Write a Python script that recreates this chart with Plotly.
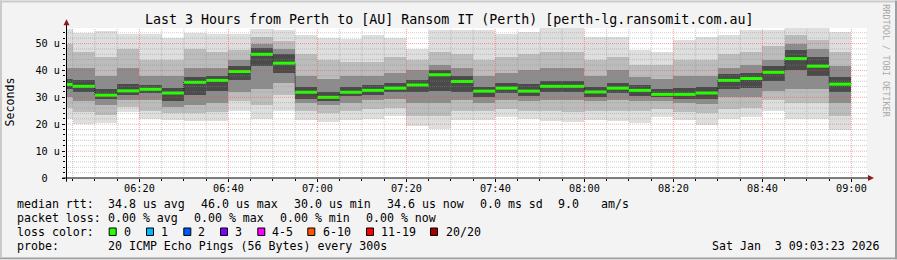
import plotly.graph_objects as go
import pandas as pd

# ---------------- data ----------------
col_end = pd.date_range("2026-01-03 06:05", "2026-01-03 09:00", freq="5min")
median = [34.8, 34.1, 30.8, 32.4, 33.0, 31.6, 35.6, 36.3, 39.6, 46.0, 42.7, 31.9,
          30.0, 31.9, 32.6, 33.4, 34.6, 38.4, 35.9, 32.3, 33.4, 32.3, 34.1, 34.1,
          32.0, 33.4, 32.6, 31.1, 31.1, 31.6, 36.3, 37.0, 39.3, 44.4, 41.6, 34.9]
ping_min = [22, 20.1, 20.3, 24.5, 22, 21.5, 21.2, 21.2, 25, 22, 25, 21.5,
            21, 21.5, 22, 23, 19.5, 18.3, 21.5, 21.5, 22.5, 22, 21.2, 21,
            21.5, 21.2, 20.4, 22.5, 21.5, 19.7, 22, 22.5, 25, 22, 22, 17.9]
ping_max = [55.5, 53.9, 54.7, 53.7, 53.7, 52, 54, 53.7, 53.7, 55.3, 55, 53,
            52, 51.8, 53, 52, 48, 55, 55, 55, 53.7, 54.3, 55.6, 55.6,
            52.5, 52.5, 47.5, 47, 51.2, 52.4, 53, 55, 55, 55.7, 55.7, 54.3]
band2_lo = [26, 24.5, 23.5, 26.5, 25, 24, 24, 24.5, 28.5, 27, 31, 25,
            24, 25, 25.5, 26, 23, 23, 25, 25, 25.5, 25, 25, 24.5,
            25, 25, 25, 25.5, 24.5, 24, 25.5, 26, 29, 28, 28, 23]
band2_hi = [50, 47, 45, 48, 44, 44, 48, 47, 47.5, 52.5, 51, 46,
            44, 43, 43, 45, 44, 47, 46, 44, 45, 46, 47, 47,
            44, 45, 42, 42, 44, 44, 46, 47, 49, 53, 51.5, 47]
band3_lo = [30, 28.5, 27, 29, 29, 26.5, 27, 28, 32, 33, 35.5, 28,
            27, 28, 29, 29.5, 28, 28, 29, 28, 29, 28.5, 29, 29,
            28.5, 29, 28.5, 28.5, 28, 27.5, 30, 30, 32.5, 33, 33, 28]
band3_hi = [41, 41, 38, 41, 38, 38, 41, 41, 44, 50, 48, 38,
            37, 38, 38, 39, 40, 42, 41, 38, 39, 40, 41, 41,
            38, 40, 37.5, 37, 38, 38, 41, 42, 44, 50, 48, 41.5]
band4_lo = [33, 32, 29.5, 31, 31.5, 28.5, 31, 32.5, 36.5, 41.5, 39, 29.5,
            28.5, 30.5, 31, 32, 32, 32.5, 32, 30, 31.5, 30.5, 32, 32,
            30, 31.5, 30.5, 30, 29.5, 29.5, 33, 33.5, 36, 40, 38, 32]
band4_hi = [37, 36.5, 33, 35, 34.5, 33.5, 37.5, 38, 41.5, 48.5, 46, 34,
            32, 34, 34.5, 35.5, 36.5, 40, 38, 34, 35.5, 35, 36, 36,
            34, 35.5, 34.5, 33, 33.5, 34, 38.5, 39, 41.5, 47.5, 45, 37.5]

y_tick_vals = [0, 10, 20, 30, 40, 50]
y_tick_text = ["0\u00a0\u00a0", "10 u", "20 u", "30 u", "40 u", "50 u"]

title_text = "Last 3 Hours from Perth to [AU] Ransom IT (Perth) [perth-lg.ransomit.com.au]"
row1 = ["median rtt:", "34.8 us avg", "46.0 us max", "30.0 us min", "34.6 us now",
        "0.0 ms sd", "9.0", "am/s"]
row2 = ["packet loss:", "0.00 % avg", "0.00 % max", "0.00 % min", "0.00 % now"]
loss_labels = ["0", "1", "2", "3", "4-5", "6-10", "11-19", "20/20"]
loss_colors = ["#26ff00", "#00b8ff", "#0059ff", "#7e00ff", "#ff00ff", "#ff5500", "#ff0000", "#a10000"]
row4 = ["probe:", "20 ICMP Echo Pings (56 Bytes) every 300s"]
date_text = "Sat Jan\u00a0\u00a03 09:03:23 2026"

# ---------------- layout geometry (pixels) ----------------
W, H = 897, 260
L, T, PW, PH = 66, 27.7, 801, 150.6
X0 = pd.Timestamp("2026-01-03 06:03:30")
X1 = pd.Timestamp("2026-01-03 09:03:30")
YMAX = 55.78
STEP = pd.Timedelta(minutes=5)


def fx(p):
    return (p - L) / PW


def fy(p):
    return (T + PH - p) / PH


MONO = "DejaVu Sans Mono"

fig = go.Figure()

centers = [e - STEP / 2 for e in col_end]
bands = [(ping_min, ping_max, "#dedede"), (band2_lo, band2_hi, "#bcbcbc"),
         (band3_lo, band3_hi, "#8c8c8c"), (band4_lo, band4_hi, "#4a4a4a")]
for lo, hi, c in bands:
    fig.add_trace(go.Bar(x=centers, base=lo, y=[h - l for l, h in zip(lo, hi)],
                         width=STEP.total_seconds() * 1000 * 1.002,
                         marker=dict(color=c, line=dict(width=0)),
                         hoverinfo="skip", showlegend=False))

# black step connector
starts = [e - STEP for e in col_end]
fig.add_trace(go.Scatter(x=list(starts) + [col_end[-1]], y=median + [median[-1]],
                         mode="lines", line=dict(color="#000000", width=1, shape="hv", dash="1px,1px"),
                         hoverinfo="skip", showlegend=False))
# green median segments
gx, gy = [], []
for s, e, m in zip(starts, col_end, median):
    gx += [s, e, None]
    gy += [m, m, None]
fig.add_trace(go.Scatter(x=gx, y=gy, mode="lines", line=dict(color=loss_colors[0], width=3),
                         hoverinfo="skip", showlegend=False))

shapes = []
# grid lines (above data, as in rrdtool)
minor_col = "rgba(140,140,140,0.45)"
major_col = "rgba(255,60,60,0.45)"
t = pd.Timestamp("2026-01-03 06:05")
while t <= X1:
    major = (t.minute % 20 == 0)
    shapes.append(dict(type="line", xref="x", yref="paper", x0=t, x1=t, y0=0, y1=1, layer="above",
                       line=dict(color=major_col if major else minor_col, width=1, dash="1px,1px")))
    t += STEP
for v in range(2, 56, 2):
    major = (v % 10 == 0)
    shapes.append(dict(type="line", xref="paper", yref="y", x0=0, x1=1, y0=v, y1=v, layer="above",
                       line=dict(color=major_col if major else minor_col, width=1, dash="1px,1px")))

# axes lines and arrows
shapes.append(dict(type="line", xref="paper", yref="paper", x0=fx(62.5), x1=fx(869), y0=fy(178.3), y1=fy(178.3),
                   line=dict(color="#000000", width=1), layer="above"))
shapes.append(dict(type="line", xref="paper", yref="paper", x0=fx(66.5), x1=fx(66.5), y0=fy(182), y1=fy(24),
                   line=dict(color="#000000", width=1), layer="above"))
shapes.append(dict(type="path", xref="paper", yref="paper",
                   path=f"M {fx(868)} {fy(175.3)} L {fx(874)} {fy(178.3)} L {fx(868)} {fy(181.3)} Z",
                   fillcolor="#8b1a1a", line=dict(width=0), layer="above"))
shapes.append(dict(type="path", xref="paper", yref="paper",
                   path=f"M {fx(63.5)} {fy(25)} L {fx(66.5)} {fy(19)} L {fx(69.5)} {fy(25)} Z",
                   fillcolor="#8b1a1a", line=dict(width=0), layer="above"))

# frame
shapes.append(dict(type="rect", xref="paper", yref="paper", x0=fx(0), x1=fx(897), y0=fy(258), y1=fy(260),
                   fillcolor="#9e9e9e", line=dict(width=0)))
shapes.append(dict(type="rect", xref="paper", yref="paper", x0=fx(895), x1=fx(897), y0=fy(260), y1=fy(0),
                   fillcolor="#9e9e9e", line=dict(width=0)))
shapes.append(dict(type="rect", xref="paper", yref="paper", x0=fx(0), x1=fx(2), y0=fy(258), y1=fy(0),
                   fillcolor="#cbcbcb", line=dict(width=0)))
shapes.append(dict(type="rect", xref="paper", yref="paper", x0=fx(0), x1=fx(895), y0=fy(2), y1=fy(0),
                   fillcolor="#cbcbcb", line=dict(width=0)))

# loss colour boxes
box_x = [108.7, 146, 183.3, 220, 257.3, 307.3, 366, 430]
for bx, c in zip(box_x, loss_colors):
    shapes.append(dict(type="rect", xref="paper", yref="paper", x0=fx(bx + 0.5), x1=fx(bx + 7.5),
                       y0=fy(236), y1=fy(228.5), fillcolor=c, line=dict(color="#000000", width=1)))

ann = []


def txt(x, y, s, size=11.6, anchor="left", color="#000000", angle=0):
    ann.append(dict(text=s, x=fx(x), y=fy(y), xref="paper", yref="paper", showarrow=False,
                    xanchor=anchor, yanchor="middle", borderpad=0, textangle=angle,
                    font=dict(family=MONO, size=size, color=color)))


txt(448.5, 19, title_text, size=13.3, anchor="center")
txt(10.5, 102, "Seconds", size=11.6, anchor="center", angle=-90)
txt(886, 60, "RRDTOOL / TOBI OETIKER", size=8.5, anchor="center", color="#a8a8a8", angle=90)

r1x = [16, 107.3, 200, 293, 386, 479.3, 557.7, 600]
for x, s in zip(r1x, row1):
    txt(x - 0.5, 204.3, s)
r2x = [16, 107.3, 193.3, 279.3, 365.3]
for x, s in zip(r2x, row2):
    txt(x - 0.5, 218.3, s)
txt(15.5, 232.3, "loss color:")
lab_x = [123.3, 160.7, 197.3, 234.3, 271, 322, 380, 445]
for x, s in zip(lab_x, loss_labels):
    txt(x - 0.5, 232.3, s)
r4x = [16, 107.3]
for x, s in zip(r4x, row4):
    txt(x - 0.5, 246.7, s)
txt(880.5, 246.7, date_text, anchor="right")

fig.update_layout(
    width=W, height=H,
    margin=dict(l=L, r=W - L - PW, t=T, b=H - T - PH, autoexpand=False),
    paper_bgcolor="#f3f3f3", plot_bgcolor="#ffffff",
    barmode="overlay", bargap=0,
    shapes=shapes, annotations=ann, showlegend=False,
    xaxis=dict(type="date", range=[X0, X1], showgrid=False, zeroline=False, showline=False,
               tick0="2026-01-03 06:00", dtick=20 * 60 * 1000, tickformat="%H:%M",
               ticks="outside", ticklen=3, tickcolor="#000000",
               minor=dict(ticks="outside", ticklen=2, dtick=5 * 60 * 1000, tickcolor="#000000", showgrid=False),
               tickfont=dict(family=MONO, size=10.2, color="#000000"), ticklabelstandoff=-2),
    yaxis=dict(range=[0, YMAX], showgrid=False, zeroline=False, showline=False,
               tickvals=y_tick_vals, ticktext=y_tick_text,
               ticks="outside", ticklen=3, tickcolor="#000000",
               minor=dict(ticks="outside", ticklen=2, dtick=2, tickcolor="#000000", showgrid=False),
               tickfont=dict(family=MONO, size=10.2, color="#000000"), ticklabelstandoff=0),
)

fig.write_html("out.html")
